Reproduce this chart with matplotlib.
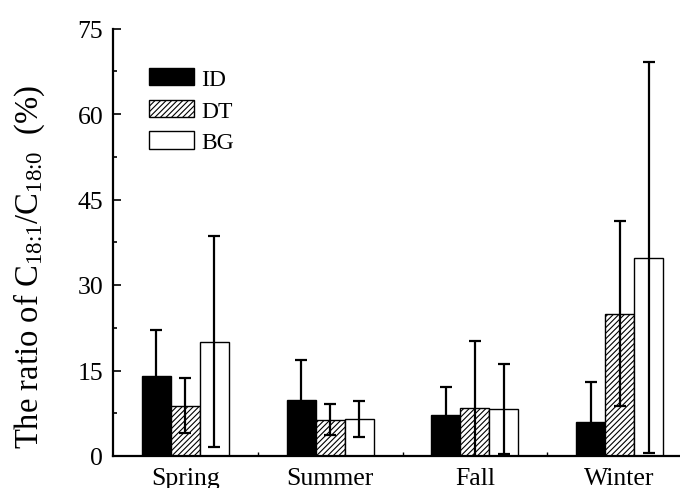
import numpy as np
import matplotlib
matplotlib.use('Agg')
import matplotlib.pyplot as plt
from matplotlib.ticker import MultipleLocator, FixedLocator

plt.rcParams['font.family'] = ['Liberation Serif', 'DejaVu Serif']
plt.rcParams['mathtext.fontset'] = 'custom'
plt.rcParams['mathtext.rm'] = 'Liberation Serif'
plt.rcParams['mathtext.it'] = 'Liberation Serif:italic'
plt.rcParams['hatch.linewidth'] = 0.8

seasons = ['Spring', 'Summer', 'Fall', 'Winter']
series = ['ID', 'DT', 'BG']
id_vals = [14.1, 9.9, 7.15, 6.0]
id_err = [7.95, 6.9, 5.0, 7.05]
dt_vals = [8.8, 6.4, 8.5, 25.0]
dt_err = [4.8, 2.75, 11.7, 16.2]
bg_vals = [20.05, 6.45, 8.25, 34.8]
bg_err = [18.55, 3.2, 7.9, 34.3]

fig = plt.figure(figsize=(6.8, 4.89), dpi=100)
ax = fig.add_axes([113/680, 32/489, 579/680, 427.5/489])

x = np.arange(len(seasons))
w = 0.2
styles = [dict(color='black', edgecolor='black'),
          dict(color='white', edgecolor='black', hatch='//////'),
          dict(color='white', edgecolor='black')]
vals = [id_vals, dt_vals, bg_vals]
errs = [id_err, dt_err, bg_err]
for i in range(3):
    ax.bar(x + (i - 1) * w, vals[i], w, linewidth=1.0, label=series[i], **styles[i])
    ax.errorbar(x + (i - 1) * w, vals[i], yerr=errs[i], fmt='none', ecolor='black',
                elinewidth=1.6, capsize=4.3, capthick=1.6)

ax.set_xlim(-0.5, 3.5)
ax.set_ylim(0, 75)
ax.yaxis.set_major_locator(MultipleLocator(15))
ax.yaxis.set_minor_locator(MultipleLocator(7.5))
ax.set_xticks(x)
ax.set_xticklabels(seasons)
ax.xaxis.set_minor_locator(FixedLocator([0.5, 1.5, 2.5]))
ax.tick_params(axis='x', which='major', length=0, labelsize=18.5, pad=8)
ax.tick_params(axis='x', which='minor', direction='in', length=3, width=1)
ax.tick_params(axis='y', which='major', direction='in', length=6, width=1.2, labelsize=18.5, pad=7)
ax.tick_params(axis='y', which='minor', direction='in', length=3, width=1.2)
for s in ['top', 'right']:
    ax.spines[s].set_visible(False)
for s in ['left', 'bottom']:
    ax.spines[s].set_linewidth(1.6)

fig.text(29/680, 1 - 267/489, r'The ratio of C$_{\text{18:1}}$/C$_{\text{18:0}}$  (%)', fontsize=23.5,
         rotation=90, ha='center', va='center')

ax.legend(loc='upper left', bbox_to_anchor=(0.046, 0.93), frameon=False, fontsize=17,
          handlelength=1.9, handleheight=0.75, handletextpad=0.3, labelspacing=0.42,
          borderaxespad=0)

fig.savefig('out.png', dpi=100)
